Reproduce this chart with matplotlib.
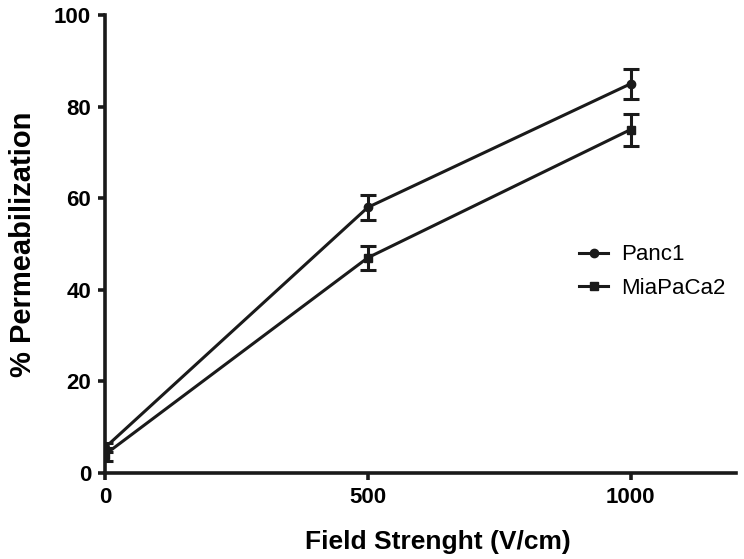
import matplotlib.pyplot as plt
from matplotlib.lines import Line2D

field = [0, 500, 1000]
panc1 = [5.5, 58, 85]
panc1_err = [1.0, 2.7, 3.3]
mia = [4, 47, 75]
mia_err = [1.5, 2.6, 3.5]

plt.rcParams['font.family'] = ['Liberation Sans', 'DejaVu Sans']

fig = plt.figure(figsize=(7.44, 5.59), dpi=100)
ax = fig.add_axes([0.141, 0.154, 0.848, 0.819])

col = '#1a1a1a'
ax.errorbar(field, panc1, yerr=panc1_err, color=col, marker='o', ms=6,
            lw=2.2, elinewidth=2.2, capsize=6, capthick=2.2)
ax.errorbar(field, mia, yerr=mia_err, color=col, marker='s', ms=6,
            lw=2.2, elinewidth=2.2, capsize=6, capthick=2.2)

ax.set_xlim(0, 1200)
ax.set_ylim(0, 100)
ax.set_xticks([0, 500, 1000])
ax.set_yticks([0, 20, 40, 60, 80, 100])

for s in ['top', 'right']:
    ax.spines[s].set_visible(False)
for s in ['left', 'bottom']:
    ax.spines[s].set_linewidth(2.6)
    ax.spines[s].set_color(col)

ax.tick_params(width=2.6, length=5, labelsize=16, color=col, pad=5)
for lab in ax.get_xticklabels() + ax.get_yticklabels():
    lab.set_fontweight('bold')

ax.set_xlabel('Field Strenght (V/cm)', fontsize=19, fontweight='bold')
ax.xaxis.set_label_coords(0.527, -0.125)
ax.set_ylabel('% Permeabilization', fontsize=21, fontweight='bold', labelpad=12)

handles = [Line2D([], [], color=col, lw=2.2, marker='o', ms=6),
           Line2D([], [], color=col, lw=2.2, marker='s', ms=6)]
ax.legend(handles, ['Panc1', 'MiaPaCa2'], loc='center left',
          bbox_to_anchor=(0.72, 0.44), frameon=False, fontsize=16,
          handlelength=1.3, handletextpad=0.6, labelspacing=0.55)

fig.savefig('out.png', dpi=100)
